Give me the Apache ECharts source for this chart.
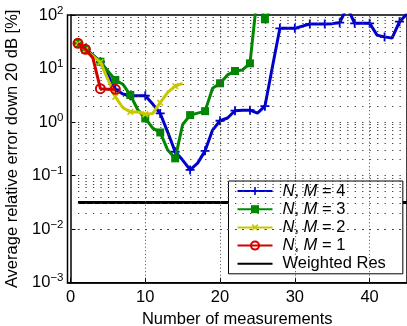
<!DOCTYPE html>
<html>
<head>
<meta charset="utf-8">
<script src="https://cdn.jsdelivr.net/npm/echarts@6/dist/echarts.min.js"></script>
<style>
  html, body { margin: 0; padding: 0; background: #fff; }
  #chart { width: 407px; height: 326px; }
</style>
</head>
<body>
<div id="chart"></div>
<script>
// Average relative error (%) versus number of measurements, one curve per model order.
const seriesNames = ['N, M = 4', 'N, M = 3', 'N, M = 2', 'N, M = 1', 'Weighted Res'];

// Values start at 1 measurement and step by one measurement.
const errorNM4 = [29.6, 23, 17.9, 13.4, 7.6, 4.08, 3.34, 3.1, 3.1, 3.1, 2.17, 1.45, 0.65, 0.279, 0.195,
  0.128, 0.171, 0.29, 0.708, 1.06, 1.19, 1.63, 1.67, 1.67, 1.47, 1.98, 10.7, 56.4, 56.4, 56.4,
  62, 68, 68, 68, 69, 71.8, 140, 70, 70, 70, 42, 39, 37, 75, 105];
const errorNM3 = [29.6, 22.5, 17.5, 13.4, 9.0, 6.1, 5.1, 3.2, 1.7, 1.17, 0.77, 0.64, 0.30, 0.21, 0.9,
  1.35, 1.47, 1.6, 4.3, 5.3, 7.6, 9.0, 9.4, 12.5, 250, 83, 150];
const errorNM2 = [29.6, 22.2, 17, 13.2, 6.3, 2.97, 1.85, 1.55, 1.55, 1.4, 1.45, 2.3, 3.6, 4.7, 5.3];
const errorNM1 = [29.6, 22.9, 15.7, 4.2, 4.1, 4.1];

// Reference level of the weighted-residual method, drawn over its measurement range.
const weightedResLevel = 0.0316;
const weightedResRange = [1, 45];

// Axis tick values.
const xTicks = [0, 10, 20, 30, 40];
const yDecades = [-3, -2, -1, 0, 1, 2];

const FONT = "'Liberation Sans', Arial, Helvetica, sans-serif";
const FS = 16.5;

// markers on the first point and on every even measurement count
function markedAt(x) { return x === 1 || x % 2 === 0; }
function toPoints(values) {
  return values.map((v, i) => {
    const x = i + 1;
    return markedAt(x) ? [x, v] : { value: [x, v], symbol: 'none' };
  });
}

// dotted grid: every 1..9 x 10^k inside the y range, major verticals at the x ticks
const yGrid = [];
for (let k = yDecades[0]; k < yDecades[yDecades.length - 1]; k++) {
  for (let m = 1; m <= 9; m++) {
    if (m === 1 && k === yDecades[0]) continue;
    yGrid.push(+(m * Math.pow(10, k)).toPrecision(3));
  }
}
const xGrid = xTicks.filter(t => t > 0);

const plusPath = 'path://M4,0H6V4H10V6H6V10H4V6H0V4H4Z';

function supLabel(v) {
  const e = Math.round(Math.log10(v));
  const txt = e < 0 ? '\u2212' + (-e) : String(e);
  return '{b|10}{s|' + txt + '}';
}

const chart = echarts.init(document.getElementById('chart'), null, { renderer: 'canvas' });
chart.setOption({
  animation: false,
  backgroundColor: '#fff',
  textStyle: { fontFamily: FONT },
  grid: {
    left: 67.5, right: 0, top: 15, bottom: 43.3,
    containLabel: false, outerBoundsMode: 'none',
    show: true, borderColor: '#000', borderWidth: 1.5, backgroundColor: 'transparent'
  },
  xAxis: {
    type: 'value', min: -0.4, max: 45, splitNumber: 5,
    name: 'Number of measurements', nameLocation: 'middle', nameGap: 26,
    nameTextStyle: { fontSize: FS, color: '#000', fontFamily: FONT },
    axisLine: { show: true, lineStyle: { color: '#000', width: 1.5 } },
    axisTick: { show: true, inside: true, length: 5, lineStyle: { color: '#000' } },
    axisLabel: { fontSize: FS, color: '#000', fontFamily: FONT, margin: 6, showMinLabel: false, showMaxLabel: false,
      formatter: v => (xTicks.indexOf(Math.round(v)) >= 0 && Math.abs(v - Math.round(v)) < 1e-6) ? String(Math.round(v)) : '' },
    splitLine: { show: false }
  },
  yAxis: {
    type: 'log', logBase: 10, min: 0.001, max: 100,
    name: 'Average relative error down 20 dB [%]', nameLocation: 'middle', nameGap: 47,
    nameTextStyle: { fontSize: FS, color: '#000', fontFamily: FONT },
    axisLine: { show: true, lineStyle: { color: '#000', width: 1.5 } },
    axisTick: { show: true, inside: true, length: 5, lineStyle: { color: '#000' } },
    axisLabel: {
      color: '#000', margin: 4, formatter: supLabel,
      rich: {
        b: { fontSize: FS, fontFamily: FONT, color: '#000' },
        s: { fontSize: 11.5, fontFamily: FONT, color: '#000', padding: [0, 0, 9, 0] }
      }
    },
    splitLine: { show: false }
  },
  legend: {
    data: seriesNames,
    orient: 'vertical', left: 228.5, top: 181,
    padding: [1, 17, 1, 8], itemWidth: 35, itemHeight: 10, itemGap: 0.2,
    borderColor: '#000', borderWidth: 1, backgroundColor: '#fff',
    textStyle: {
      fontSize: FS, fontFamily: FONT, color: '#000', lineHeight: 18, padding: [0, 0, 0, 5],
      rich: { it: { fontStyle: 'italic', fontSize: FS, fontFamily: FONT, color: '#000' },
              n: { fontSize: FS, fontFamily: FONT, color: '#000' } }
    },
    formatter: name => {
      const m = name.match(/^N, M = (\d)$/);
      return m ? '{it|N}{n|, }{it|M}{n| = ' + m[1] + '}' : '{n|' + name + '}';
    }
  },
  series: [
    {
      name: 'grid', type: 'line', data: [], z: 1, silent: true,
      markLine: {
        silent: true, symbol: 'none', label: { show: false }, animation: false,
        data: [
          ...yGrid.map(v => ({ yAxis: v, lineStyle: { color: '#444', width: 1, type: [1.3, 6.178], dashOffset: 4.5 } })),
          ...xGrid.map(v => ({ xAxis: v, lineStyle: { color: '#444', width: 1, type: [1, 2.5] } }))
        ]
      }
    },
    {
      name: seriesNames[0], type: 'line', z: 3, data: toPoints(errorNM4),
      symbol: plusPath, symbolSize: 9,
      lineStyle: { color: '#0000cc', width: 3 }, itemStyle: { color: '#0000cc' }
    },
    {
      name: seriesNames[1], type: 'line', z: 4, data: toPoints(errorNM3),
      symbol: 'rect', symbolSize: 8,
      lineStyle: { color: '#008800', width: 3 }, itemStyle: { color: '#008800' }
    },
    {
      name: seriesNames[2], type: 'line', z: 5, data: toPoints(errorNM2),
      symbol: plusPath, symbolSize: 8, symbolRotate: 45,
      lineStyle: { color: '#c8c800', width: 3 }, itemStyle: { color: '#c8c800' }
    },
    {
      name: seriesNames[3], type: 'line', z: 6, data: toPoints(errorNM1),
      symbol: 'circle', symbolSize: 9,
      lineStyle: { color: '#d40000', width: 3 },
      itemStyle: { color: 'rgba(255,255,255,0)', borderColor: '#d40000', borderWidth: 2 }
    },
    {
      name: seriesNames[4], type: 'line', z: 2, symbol: 'none',
      data: weightedResRange.map(x => [x, weightedResLevel]),
      lineStyle: { color: '#000', width: 3 },
      itemStyle: { color: 'rgba(0,0,0,0)', borderWidth: 0 }
    }
  ]
});
</script>
</body>
</html>
